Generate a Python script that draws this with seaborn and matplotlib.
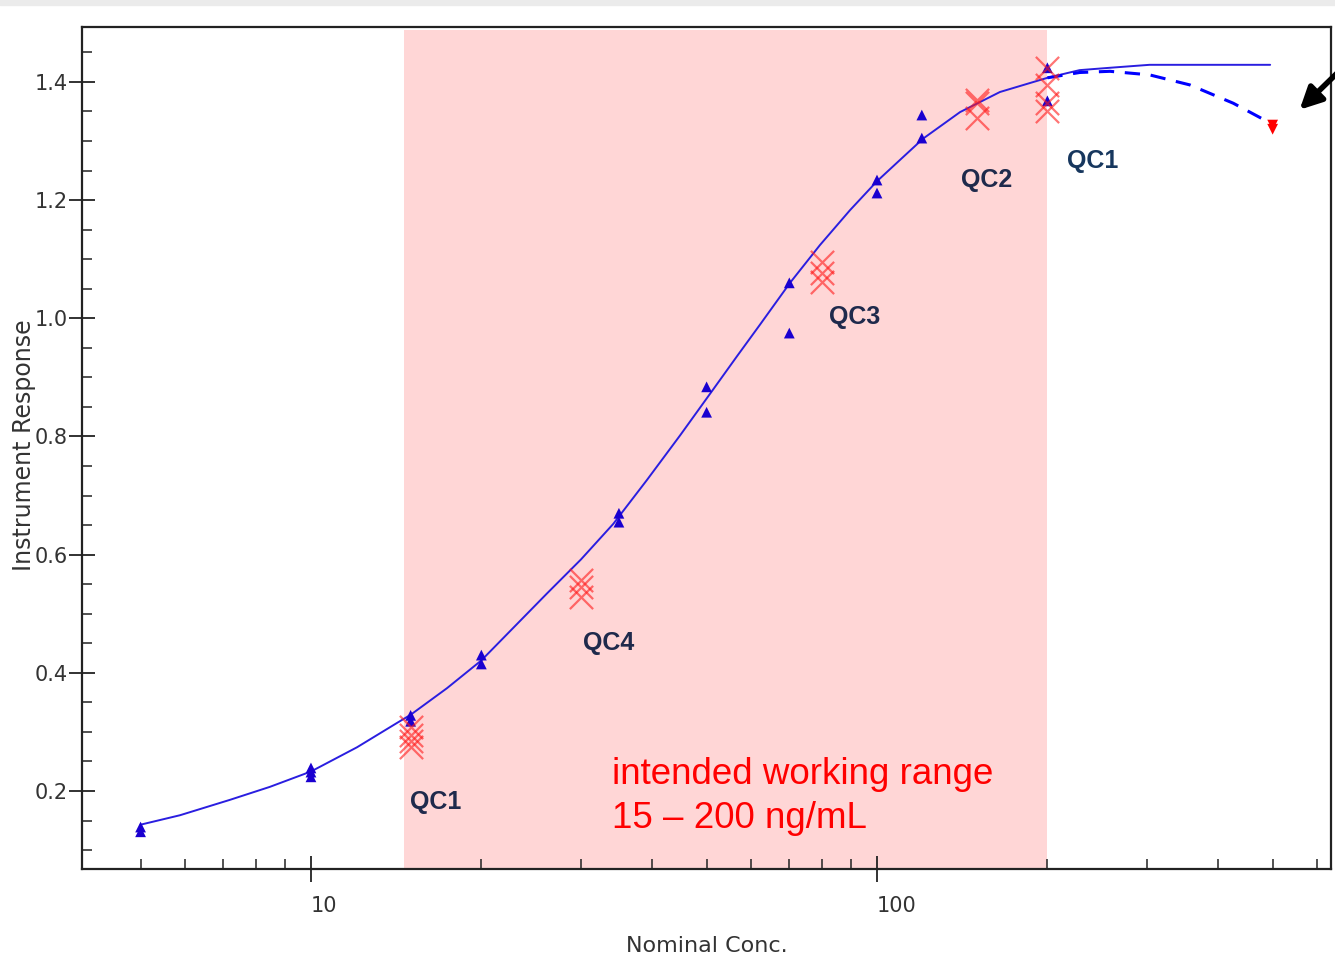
import numpy as np
import pandas as pd
import matplotlib
matplotlib.use("Agg")
import matplotlib.pyplot as plt
import seaborn as sns
from matplotlib.ticker import FixedLocator, NullFormatter
from matplotlib.patches import Rectangle

# calibration standards (blue triangles)
std_conc = [5, 5, 10, 10, 10, 15, 15, 20, 20, 35, 35, 50, 50, 70, 70,
            100, 100, 120, 120, 200, 200]
std_resp = [0.131, 0.139, 0.224, 0.232, 0.239, 0.318, 0.328, 0.415, 0.430,
            0.655, 0.670, 0.841, 0.884, 0.975, 1.060, 1.212, 1.234, 1.305,
            1.344, 1.368, 1.424]

# QC samples (red crosses)
qc_conc = [15, 15, 15, 15, 30, 30, 30, 80, 80, 80, 150, 150, 150,
           200, 200, 200, 200]
qc_resp = [0.308, 0.295, 0.285, 0.275, 0.557, 0.545, 0.528, 1.095, 1.077,
           1.061, 1.370, 1.365, 1.339, 1.424, 1.395, 1.364, 1.350]

# excluded top standard (red down triangle)
excl_conc = [500, 500]
excl_resp = [1.327, 1.320]

# fitted curve
fit_conc = [5, 5.87, 7.19, 8.46, 10, 12.06, 14.18, 15, 17.39, 20, 26.1, 30,
            34.2, 39.2, 44.9, 51.3, 56.6, 62.1, 70.2, 79.3, 89.6, 100, 109.8,
            120.6, 140.2, 164.9, 200, 228, 258, 303, 400, 495]
fit_resp = [0.143, 0.159, 0.185, 0.207, 0.233, 0.274, 0.315, 0.329, 0.374,
            0.421, 0.534, 0.592, 0.652, 0.726, 0.802, 0.879, 0.936, 0.989,
            1.060, 1.124, 1.183, 1.232, 1.268, 1.304, 1.349, 1.383, 1.407,
            1.420, 1.424, 1.429, 1.429, 1.429]

# curve if the top standard is kept
alt_conc = [200, 228, 258, 303, 357, 426, 494]
alt_resp = [1.407, 1.416, 1.418, 1.412, 1.395, 1.364, 1.331]

qc_labels = ["QC1", "QC4", "QC3", "QC2", "QC1"]
range_text = ["intended working range", "15 \u2013 200 ng/mL"]

sns.set_theme(style="white")
plt.rcParams["font.family"] = ["DejaVu Sans"]

fig = plt.figure(figsize=(13.35, 9.69), dpi=100)
ax = fig.add_axes([82 / 1335, 1 - 869 / 969, (1331 - 82) / 1335, (869 - 27) / 969])
fig.patches.append(Rectangle((0, 1 - 5 / 969), 1, 5 / 969, transform=fig.transFigure,
                             color="#ebebeb", zorder=0))

ax.set_xscale("log")
ax.set_xlim(3.94, 634)
ax.set_ylim(0.068, 1.493)

ax.axvspan(14.6, 200, ymin=0, ymax=0.996, color="#ffd6d6", lw=0, zorder=0)

fit_df = pd.DataFrame({"conc": fit_conc, "resp": fit_resp})
alt_df = pd.DataFrame({"conc": alt_conc, "resp": alt_resp})
sns.lineplot(data=fit_df, x="conc", y="resp", sort=False, estimator=None,
             color="#2a1ee0", lw=1.4, ax=ax, zorder=2)
sns.lineplot(data=alt_df, x="conc", y="resp", sort=False, estimator=None,
             color="#0000ff", lw=2.2, ax=ax, zorder=2)
ax.lines[-1].set_dashes([5, 3.5])

sns.scatterplot(x=std_conc, y=std_resp, marker="^", s=60, color="#1a00d0",
                edgecolor="none", ax=ax, zorder=3)
sns.scatterplot(x=qc_conc, y=qc_resp, marker="x", s=280, color="#ff1a1a",
                linewidth=1.6, alpha=0.6, ax=ax, zorder=4)
sns.scatterplot(x=excl_conc, y=excl_resp, marker="v", s=60, color="#ff0000",
                edgecolor="none", ax=ax, zorder=3)

label_pos = [(14.96, 0.181), (30.2, 0.451), (82.2, 1.002), (140.6, 1.234), (216.6, 1.266)]
label_col = ["#1f2a4c", "#1f2a4c", "#1f2a4c", "#1f2a4c", "#17375e"]
for txt, (lx, ly), c in zip(qc_labels, label_pos, label_col):
    ax.text(lx, ly, txt, fontsize=18, fontweight="bold", color=c,
            family="Liberation Sans", ha="left", va="center", zorder=5)

ax.text(34.0, 0.228, range_text[0], fontsize=26.5, color="#ff0000",
        family="Liberation Sans", ha="left", va="center", zorder=5)
ax.text(34.0, 0.153, range_text[1], fontsize=26.5, color="#ff0000",
        family="Liberation Sans", ha="left", va="center", zorder=5)

ax.annotate("", xy=(558, 1.353), xytext=(700, 1.445), xycoords="data",
            textcoords="data", annotation_clip=False,
            arrowprops=dict(arrowstyle="-|>,head_length=1.1,head_width=0.55",
                            color="black", lw=4, shrinkA=0, shrinkB=0))

# ticks
ax.xaxis.set_major_locator(FixedLocator([10, 100]))
ax.xaxis.set_minor_locator(FixedLocator([5, 6, 7, 8, 9, 20, 30, 40, 50, 60, 70,
                                         80, 90, 200, 300, 400, 500, 600]))
ax.xaxis.set_minor_formatter(NullFormatter())
ax.set_xticklabels(["10", "100"])
ax.set_yticks(np.arange(0.2, 1.41, 0.2))
ax.set_yticklabels([f"{v:.1f}" for v in np.arange(0.2, 1.41, 0.2)])
ax.yaxis.set_minor_locator(FixedLocator(np.arange(0.1, 1.46, 0.05)))

ax.tick_params(axis="both", which="both", bottom=True, left=True, top=False, right=False)
ax.tick_params(axis="both", which="major", direction="inout", length=19, width=1.3,
               color="#222222", labelsize=15, labelcolor="#333333")
ax.tick_params(axis="both", which="minor", direction="in", length=7, width=1.1,
               color="#222222")
ax.tick_params(axis="x", which="major", pad=10)
ax.tick_params(axis="y", which="major", pad=1)
for lab in ax.get_xticklabels():
    lab.set_ha("left")

for sp in ax.spines.values():
    sp.set_color("#222222")
    sp.set_linewidth(1.6)

ax.set_xlabel("Nominal Conc.", fontsize=16, color="#333333", labelpad=14)
ax.set_ylabel("Instrument Response", fontsize=17, color="#333333")
ax.yaxis.set_label_coords(-46 / 1249, (869 - 445) / 842)

fig.savefig("out.png", dpi=100)
